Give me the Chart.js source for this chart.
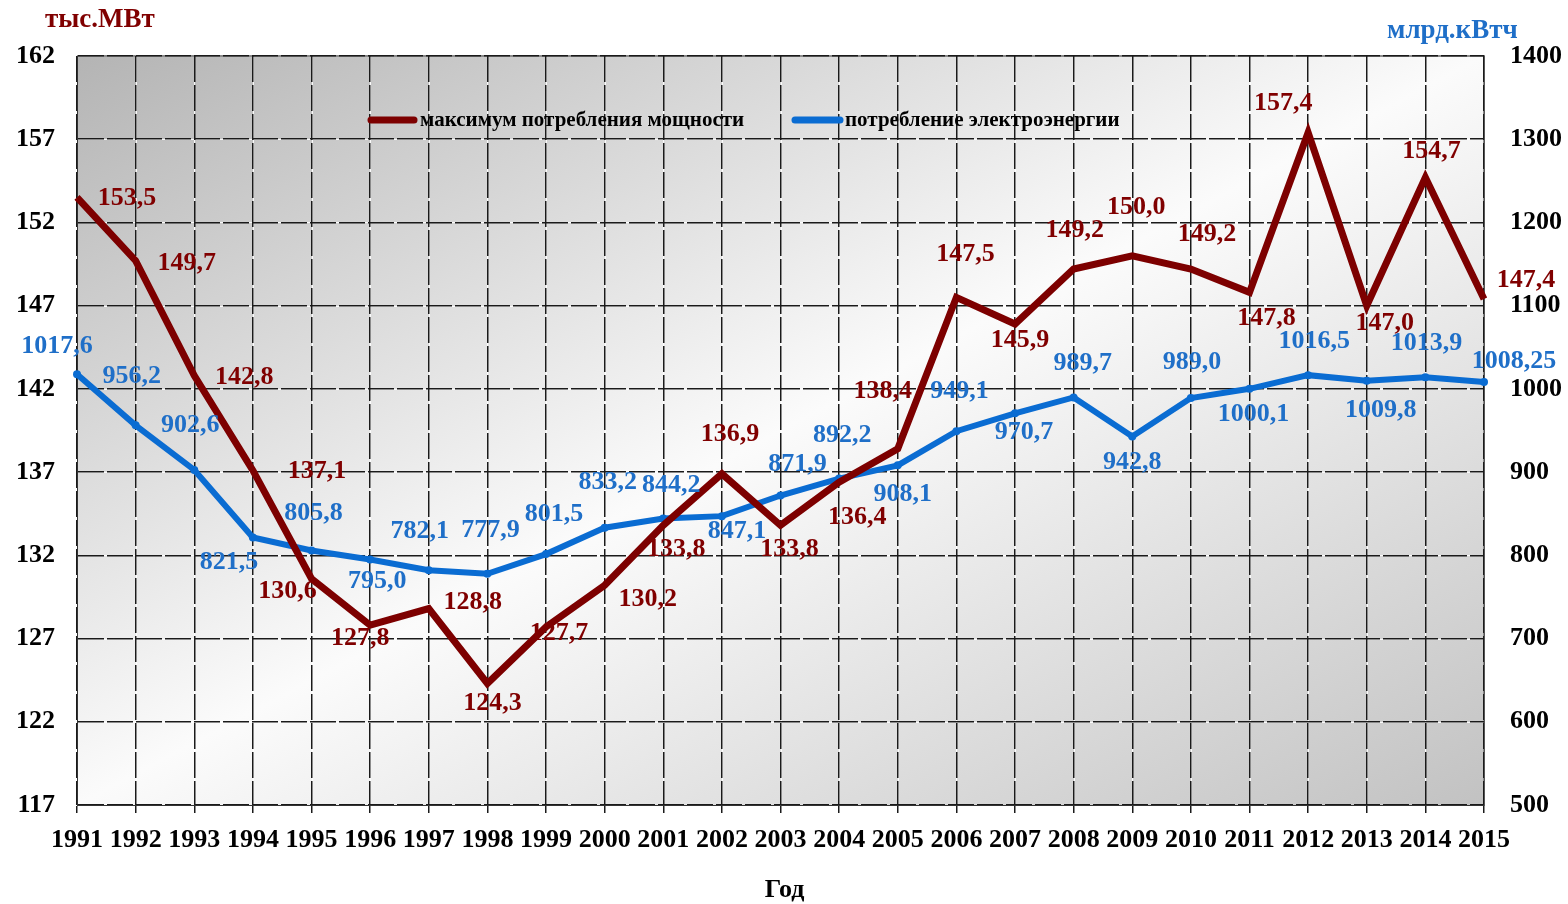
<!DOCTYPE html>
<html>
<head>
<meta charset="utf-8">
<script src="https://cdn.jsdelivr.net/npm/chart.js@4.4.0/dist/chart.umd.min.js"></script>
<style>
  html, body { margin: 0; padding: 0; background: #fff; }
  #chart { display: block; }
</style>
</head>
<body>
<canvas id="chart" width="1568" height="904"></canvas>
<script>
// data
var years = ["1991", "1992", "1993", "1994", "1995", "1996", "1997", "1998", "1999", "2000",
             "2001", "2002", "2003", "2004", "2005", "2006", "2007", "2008", "2009", "2010",
             "2011", "2012", "2013", "2014", "2015"];
var maxPower = [153.5, 149.7, 142.8, 137.1, 130.6, 127.8, 128.8, 124.3, 127.7, 130.2,
                133.8, 136.9, 133.8, 136.4, 138.4, 147.5, 145.9, 149.2, 150.0, 149.2,
                147.8, 157.4, 147.0, 154.7, 147.4];
var consumption = [1017.6, 956.2, 902.6, 821.5, 805.8, 795.0, 782.1, 777.9, 801.5, 833.2,
                   844.2, 847.1, 871.9, 892.2, 908.1, 949.1, 970.7, 989.7, 942.8, 989.0,
                   1000.1, 1016.5, 1009.8, 1013.9, 1008.25];
var powerAxis = [117, 162, 5];      // min, max, step
var energyAxis = [500, 1400, 100];
var seriesNames = ["максимум потребления мощности", "потребление электроэнергии"];

// where each value label sits relative to its point (dx, dy)
var powerLabelShift = [[50,1],[51,3],[50,2],[64,1],[-24,13],[-10,13],[44,-6],[5,20],[13,6],[43,14],
                       [13,24],[8,-39],[9,24],[18,35],[-15,-58],[9,-43],[5,16],[1,-39],[4,-48],[16,-35],
                       [17,26],[-25,-29],[18,18],[6,-26],[42,-19]];
var energyLabelShift = [[-20,-28],[-4,-49],[-4,-45],[-24,25],[2,-37],[7,22],[-9,-39],[3,-43],[8,-40],[3,-45],
                        [8,-33],[15,15],[17,-31],[3,-43],[5,29],[3,-40],[9,19],[9,-34],[0,26],[1,-36],
                        [4,25],[6,-34],[14,30],[1,-34],[30,-21]];

var RED = '#7d0000';
var BLUE = '#0a6cd2';
var BLUE_TXT = '#1f6fc8';
var SERIF = "'Liberation Serif', 'Times New Roman', serif";

function fmt(v) {
    var s = String(v);
    if (s.indexOf('.') < 0) s += '.0';
    return s.replace('.', ',');
}

var decorPlugin = {
    id: 'decor',
    beforeDraw: function(chart) {
        var ctx = chart.ctx, a = chart.chartArea;
        // diagonal grey-white-grey fill, contours through the other two corners
        var w = a.right - a.left, h = a.bottom - a.top;
        var k = (2 * w * h) / (w * w + h * h);
        var g = ctx.createLinearGradient(a.left, a.top, a.left + k * h, a.top + k * w);
        g.addColorStop(0, '#b4b4b4');
        g.addColorStop(0.5, '#fbfbfb');
        g.addColorStop(1, '#c2c2c2');
        ctx.save();
        ctx.fillStyle = g;
        ctx.fillRect(a.left, a.top, w, h);
        // white under the dashed grid so the gaps show light
        ctx.strokeStyle = 'rgba(255,255,255,0.9)';
        ctx.lineWidth = 1;
        var xs = chart.scales.x, ys = chart.scales.y;
        ctx.beginPath();
        xs.ticks.forEach(function(t, i) {
            var px = Math.round(xs.getPixelForTick(i)) + 0.5;
            ctx.moveTo(px, a.top); ctx.lineTo(px, a.bottom);
        });
        ys.ticks.forEach(function(t, i) {
            var py = Math.round(ys.getPixelForTick(i)) + 0.5;
            ctx.moveTo(a.left, py); ctx.lineTo(a.right, py);
        });
        ctx.stroke();
        // grey frame on top and right
        ctx.strokeStyle = '#8a8a8a';
        ctx.lineWidth = 2;
        ctx.beginPath();
        ctx.moveTo(a.left, a.top); ctx.lineTo(a.right, a.top); ctx.lineTo(a.right, a.bottom);
        ctx.stroke();
        ctx.restore();
    },
    afterDatasetsDraw: function(chart) {
        var ctx = chart.ctx, a = chart.chartArea;
        ctx.save();
        ctx.textAlign = 'center';
        ctx.textBaseline = 'middle';
        ctx.font = 'bold 26px ' + SERIF;

        // value labels
        var m0 = chart.getDatasetMeta(0).data;
        ctx.fillStyle = '#800000';
        maxPower.forEach(function(v, i) {
            ctx.fillText(fmt(v), m0[i].x + powerLabelShift[i][0], m0[i].y + powerLabelShift[i][1]);
        });
        var m1 = chart.getDatasetMeta(1).data;
        ctx.fillStyle = BLUE_TXT;
        consumption.forEach(function(v, i) {
            ctx.fillText(fmt(v), m1[i].x + energyLabelShift[i][0], m1[i].y + energyLabelShift[i][1]);
        });

        // units
        ctx.font = 'bold 27px ' + SERIF;
        ctx.fillStyle = '#800000';
        ctx.textAlign = 'left';
        ctx.fillText('тыс.МВт', 45, 20);
        ctx.fillStyle = BLUE_TXT;
        ctx.fillText('млрд.кВтч', 1387, 31);
        ctx.fillStyle = '#000';
        ctx.textAlign = 'center';
        ctx.font = 'bold 26px ' + SERIF;
        ctx.fillText('Год', (a.left + a.right) / 2 + 4, 890);

        // legend inside the plot
        ctx.lineCap = 'round';
        ctx.lineWidth = 7;
        ctx.font = 'bold 21px ' + SERIF;
        ctx.textAlign = 'left';
        ctx.strokeStyle = RED;
        ctx.beginPath(); ctx.moveTo(371, 120); ctx.lineTo(414, 120); ctx.stroke();
        ctx.fillStyle = '#000';
        ctx.fillText(seriesNames[0], 420, 121);
        ctx.strokeStyle = BLUE;
        ctx.beginPath(); ctx.moveTo(795, 120); ctx.lineTo(840, 120); ctx.stroke();
        ctx.fillText(seriesNames[1], 845, 121);
        ctx.restore();
    }
};

var tickFont = { family: SERIF, size: 26, weight: 'bold' };

var ctx = document.getElementById("chart").getContext("2d");
var chart = new Chart(ctx, {
    type: 'line',
    data: {
        labels: years,
        datasets: [{
            label: seriesNames[0],
            data: maxPower,
            yAxisID: 'y',
            borderColor: RED,
            borderWidth: 7,
            pointRadius: 0,
            tension: 0,
            fill: false
        }, {
            label: seriesNames[1],
            data: consumption,
            yAxisID: 'y1',
            borderColor: BLUE,
            backgroundColor: BLUE,
            borderWidth: 6,
            pointRadius: 4,
            pointBorderWidth: 0,
            tension: 0,
            fill: false
        }]
    },
    options: {
        responsive: false,
        animation: false,
        devicePixelRatio: 1,
        layout: { padding: { top: 56, left: 0, right: 0, bottom: 0 } },
        plugins: {
            legend: { display: false },
            tooltip: { enabled: false }
        },
        scales: {
            x: {
                offset: false,
                grid: { color: '#1a1a1a', lineWidth: 1.5, tickLength: 8, drawTicks: true },
                border: { display: true, color: '#333', dash: [26, 3] },
                ticks: { color: '#000', font: tickFont, padding: 12, maxRotation: 0, autoSkip: false },
                afterFit: function(scale) { scale.height = 99; }
            },
            y: {
                position: 'left',
                min: powerAxis[0],
                max: powerAxis[1],
                grid: { color: '#1a1a1a', lineWidth: 1.5, drawTicks: false },
                border: { display: true, color: '#333', dash: [26, 3] },
                ticks: { stepSize: powerAxis[2], color: '#000', font: tickFont, padding: 22 },
                afterFit: function(scale) { scale.width = 77; }
            },
            y1: {
                position: 'right',
                min: energyAxis[0],
                max: energyAxis[1],
                grid: { display: false, drawTicks: false },
                border: { display: true, color: '#555' },
                ticks: {
                    stepSize: energyAxis[2], color: '#000', font: tickFont, padding: 26,
                    callback: function(v) { return String(v); }
                },
                afterFit: function(scale) { scale.width = 84; }
            }
        }
    },
    plugins: [decorPlugin]
});
</script>
</body>
</html>
